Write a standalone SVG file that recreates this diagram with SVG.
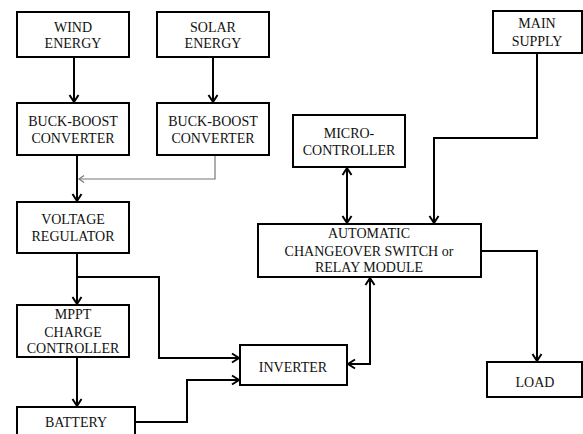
<svg xmlns="http://www.w3.org/2000/svg" width="583" height="434" viewBox="0 0 583 434">
<style>
.box{fill:#fff;stroke:#000;stroke-width:2}
.t{font-family:'Liberation Serif','Times New Roman','DejaVu Serif',serif;font-size:14px;fill:#111;text-anchor:middle}
.c{fill:none;stroke:#000;stroke-width:2}
.g{fill:none;stroke:#777;stroke-width:1.2}
</style>
<defs>
<marker id="a" markerUnits="userSpaceOnUse" markerWidth="12" markerHeight="12" refX="9" refY="5" orient="auto-start-reverse" viewBox="0 0 12 10">
<path d="M2,0.5 L9,5 L2,9.5" fill="none" stroke="#000" stroke-width="2"/>
</marker>
<marker id="ag" markerUnits="userSpaceOnUse" markerWidth="10" markerHeight="10" refX="7" refY="4" orient="auto" viewBox="0 0 10 8">
<path d="M2,0.5 L7,4 L2,7.5" fill="none" stroke="#777" stroke-width="1.2"/>
</marker>
</defs>
<g id="connectors">
<path class="c" d="M74,57 V102" marker-end="url(#a)"/>
<path class="c" d="M213,57 V102" marker-end="url(#a)"/>
<path class="c" d="M77,155 V201" marker-end="url(#a)"/>
<path class="g" d="M215,155 V179 H79" marker-end="url(#ag)"/>
<path class="c" d="M77,253 V304" marker-end="url(#a)"/>
<path class="c" d="M77,277 H159 V358 H239" marker-end="url(#a)"/>
<path class="c" d="M77,357 V406" marker-end="url(#a)"/>
<path class="c" d="M135,422 H187 V380 H239" marker-end="url(#a)"/>
<path class="c" d="M348,364 H370 V278" marker-start="url(#a)" marker-end="url(#a)"/>
<path class="c" d="M347,168 V223" marker-start="url(#a)" marker-end="url(#a)"/>
<path class="c" d="M537,53 V138 H434 V223" marker-end="url(#a)"/>
<path class="c" d="M481,251 H537 V361" marker-end="url(#a)"/>
</g>
<g font-family="Liberation Serif, serif">
<g id="wind"><rect class="box" x="17" y="12" width="112" height="45"/><text class="t" x="73" y="32">WIND</text><text class="t" x="73" y="48">ENERGY</text></g>
<g id="solar"><rect class="box" x="157" y="12" width="112" height="45"/><text class="t" x="213" y="32">SOLAR</text><text class="t" x="213" y="48">ENERGY</text></g>
<g id="bb1"><rect class="box" x="17" y="103" width="112" height="52"/><text class="t" x="73" y="126">BUCK-BOOST</text><text class="t" x="73" y="143">CONVERTER</text></g>
<g id="bb2"><rect class="box" x="157" y="103" width="112" height="52"/><text class="t" x="213" y="126">BUCK-BOOST</text><text class="t" x="213" y="143">CONVERTER</text></g>
<g id="vreg"><rect class="box" x="17" y="202" width="112" height="51"/><text class="t" x="73" y="224">VOLTAGE</text><text class="t" x="73" y="241">REGULATOR</text></g>
<g id="mppt"><rect class="box" x="17" y="305" width="112" height="52"/><text class="t" x="73" y="319">MPPT</text><text class="t" x="73" y="337">CHARGE</text><text class="t" x="73" y="353">CONTROLLER</text></g>
<g id="battery"><rect class="box" x="17" y="407" width="118" height="40"/><text class="t" x="76" y="427">BATTERY</text></g>
<g id="micro"><rect class="box" x="293" y="115" width="112" height="52"/><text class="t" x="349" y="138">MICRO-</text><text class="t" x="349" y="155">CONTROLLER</text></g>
<g id="mains"><rect class="box" x="493" y="11" width="89" height="42"/><text class="t" x="537" y="28">MAIN</text><text class="t" x="537" y="46">SUPPLY</text></g>
<g id="acs"><rect class="box" x="258" y="224" width="223" height="53"/><text class="t" x="369" y="238">AUTOMATIC</text><text class="t" x="369" y="256">CHANGEOVER SWITCH or</text><text class="t" x="369" y="272">RELAY MODULE</text></g>
<g id="inverter"><rect class="box" x="240" y="345" width="107" height="40"/><text class="t" x="293" y="372">INVERTER</text></g>
<g id="load"><rect class="box" x="487" y="362" width="95" height="35"/><text class="t" x="535" y="387">LOAD</text></g>
</g>
</svg>
